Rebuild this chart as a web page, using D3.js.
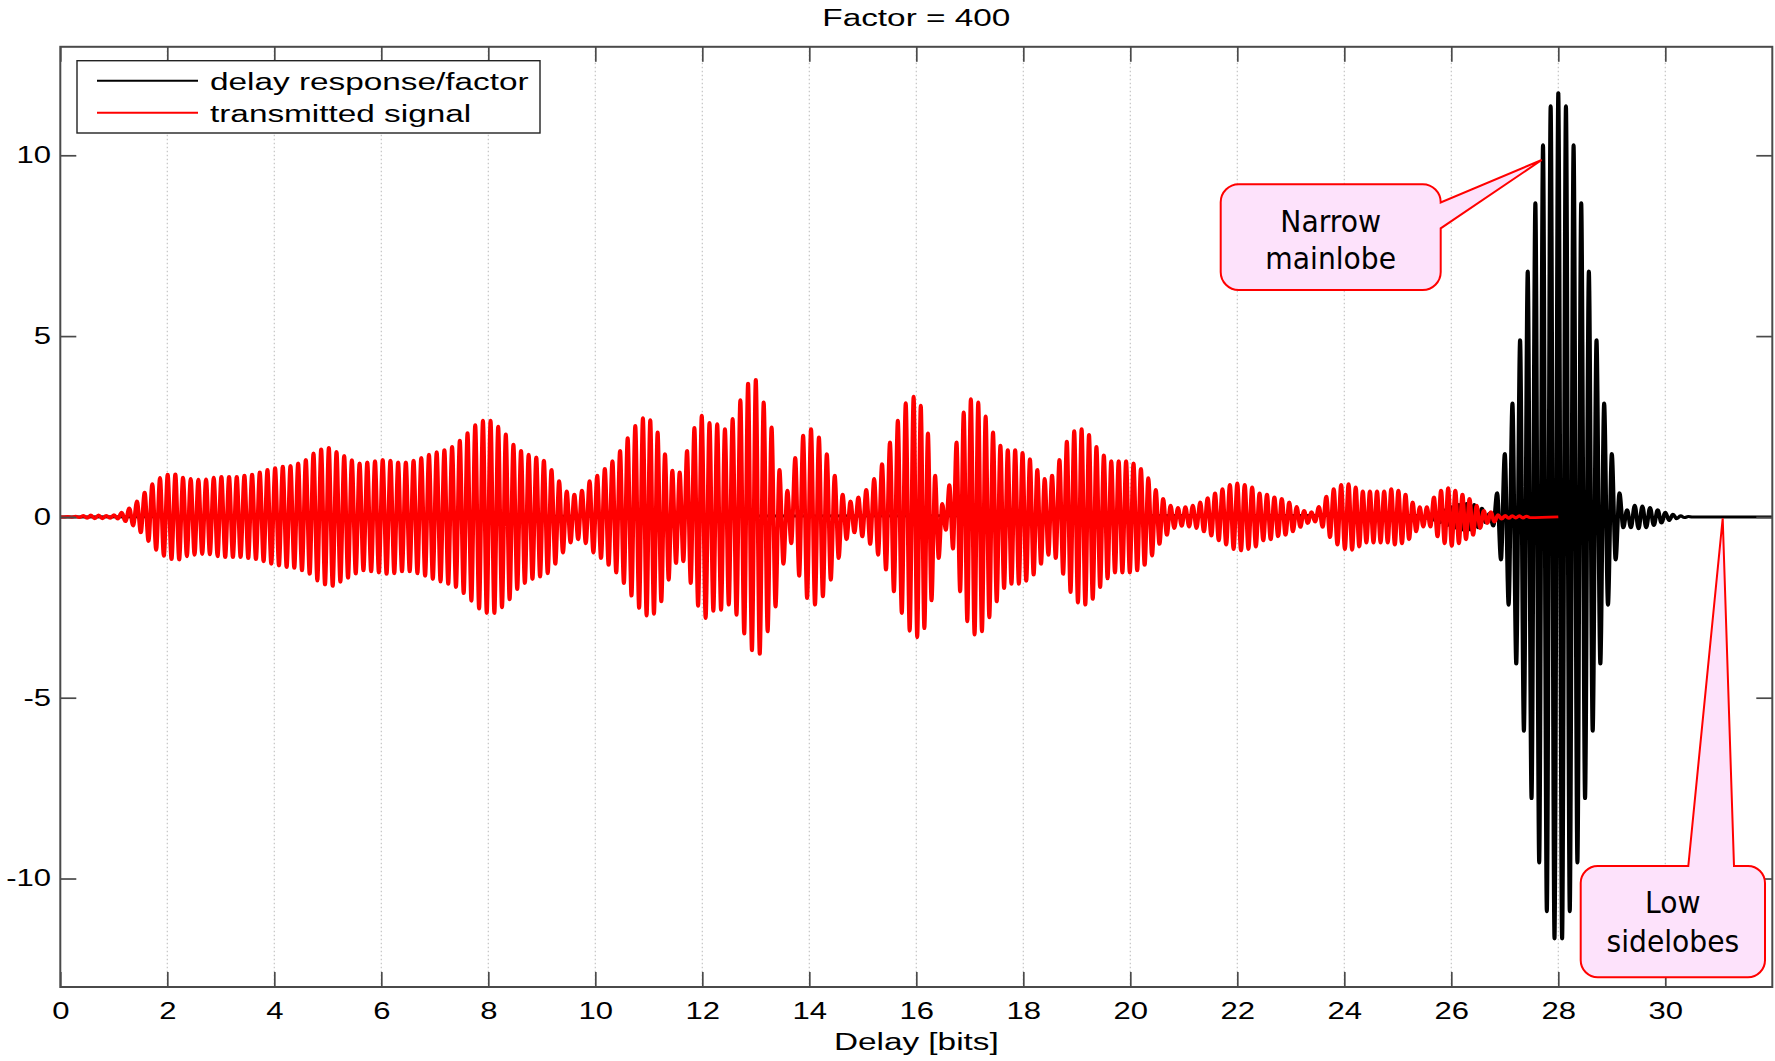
<!DOCTYPE html>
<html>
<head>
<meta charset="utf-8">
<script src="https://cdn.jsdelivr.net/npm/d3@7"></script>
<style>
	body { margin: 0; background: #fff; }
	text { font-family: "Liberation Sans", Arial, sans-serif; fill: #000; }
	.callout text { font-family: "DejaVu Sans", Tahoma, sans-serif; }
</style>
</head>
<body>
<svg id="chart"></svg>
<script>
/* Delay response vs transmitted signal, Factor = 400 */

// Axis ticks and labels
var xTicks = [0, 2, 4, 6, 8, 10, 12, 14, 16, 18, 20, 22, 24, 26, 28, 30];
var yTicks = [-10, -5, 0, 5, 10];
var titleText = "Factor = 400";
var xLabel = "Delay [bits]";
var legendLabels = ["delay response/factor", "transmitted signal"];

// Transmitted signal: amplitude of each carrier cycle
var redAmp = [
	0, 0.01, 0.02, 0.04, 0.05, 0.05, 0.04, 0.06, 0.13, 0.25,
	0.44, 0.68, 0.92, 1.09, 1.18, 1.19, 1.1, 1.06, 1.04, 1.05,
	1.1, 1.12, 1.12, 1.12, 1.15, 1.18, 1.24, 1.31, 1.36, 1.4,
	1.42, 1.49, 1.59, 1.77, 1.88, 1.92, 1.81, 1.7, 1.58, 1.49,
	1.52, 1.55, 1.59, 1.57, 1.52, 1.52, 1.57, 1.64, 1.73, 1.8,
	1.86, 1.95, 2.12, 2.33, 2.55, 2.67, 2.67, 2.51, 2.29, 2.01,
	1.84, 1.73, 1.66, 1.57, 1.31, 1.0, 0.72, 0.63, 0.74, 1.0,
	1.15, 1.34, 1.55, 1.84, 2.19, 2.53, 2.74, 2.69, 2.35, 1.75,
	1.29, 1.24, 1.84, 2.47, 2.81, 2.61, 2.58, 2.44, 2.72, 3.24,
	3.7, 3.8, 3.18, 2.49, 1.31, 0.74, 1.64, 2.26, 2.44, 2.21,
	1.75, 1.15, 0.63, 0.44, 0.55, 0.76, 1.06, 1.47, 2.07, 2.67,
	3.16, 3.34, 3.09, 2.32, 1.15, 0.37, 0.89, 2.07, 2.9, 3.27,
	3.18, 2.79, 2.35, 1.98, 1.86, 1.86, 1.78, 1.61, 1.31, 1.06,
	1.15, 1.59, 2.09, 2.38, 2.44, 2.28, 1.95, 1.71, 1.55, 1.55,
	1.55, 1.49, 1.34, 1.08, 0.76, 0.51, 0.32, 0.26, 0.28, 0.32,
	0.41, 0.53, 0.66, 0.78, 0.9, 0.94, 0.9, 0.83, 0.66, 0.63,
	0.55, 0.51, 0.41, 0.29, 0.18, 0.14, 0.29, 0.57, 0.78, 0.9,
	0.92, 0.83, 0.72, 0.72, 0.72, 0.72, 0.78, 0.74, 0.63, 0.41,
	0.28, 0.28, 0.55, 0.74, 0.81, 0.74, 0.63, 0.51, 0.32, 0.18,
	0.14, 0.06, 0.04, 0.03, 0.03, 0.02
];
// where some of those cycles peak, in bits
var redAnchorCycle = [14, 38, 55, 76, 84, 91, 111, 119, 134, 155, 170, 190];
var redAnchorBit = [2.007, 5.45, 7.9, 10.89, 11.99, 13.0, 15.95, 17.02, 19.09, 22.0, 24.08, 26.74];
var redEnd = 28;

// Delay response/factor: successive extrema (+,-,+,...) every half cycle
var blackExt = [
	0.04, 0.06, 0.08, 0.1, 0.13, 0.16, 0.2, 0.24, 0.28, 0.31,
	0.34, 0.36, 0.37, 0.36, 0.34, 0.3, 0.24, 0.16, 0.1, 0.25,
	0.67, 1.19, 1.75, 2.44, 3.15, 4.07, 4.9, 5.93, 6.8, 7.79,
	8.69, 9.57, 10.29, 10.92, 11.37, 11.67, 11.73, 11.67, 11.37, 10.92,
	10.29, 9.57, 8.69, 7.79, 6.8, 5.93, 4.9, 4.07, 3.15, 2.44,
	1.75, 1.19, 0.67, 0.3, 0.2, 0.3, 0.32, 0.33, 0.3, 0.3,
	0.26, 0.24, 0.2, 0.17, 0.13, 0.1, 0.07, 0.05, 0.03, 0.02,
	0.01, 0
];
var blackPeakBit = 28;      // bit of the main peak
var blackPeakIndex = 36;    // its index in blackExt
var cyclesPerBit = 7;

function drawGraph() {

	var margin = {left: 60.3, top: 46.8},
		width = 1712,
		height = 940.2,
		stretch = 1.35;   // the figure is stretched sideways

	var svg = d3.select("#chart")
		.attr("width", 1775)
		.attr("height", 1061);

	var x = d3.scaleLinear().domain([0, 32]).range([0, width]);
	var xs = d3.scaleLinear().domain([0, 32]).range([0, width / stretch]);
	var y = d3.scaleLinear().domain([-13, 13]).range([height, 0]);

	var cycleToBit = d3.scaleLinear().domain(redAnchorCycle).range(redAnchorBit);

	// build the traces from the extrema
	var red = [{x: 0, y: 0}];
	redAmp.forEach(function(a, k) {
		red.push({x: Math.max(0, cycleToBit(k)), y: a});
		red.push({x: Math.max(0, cycleToBit(k + 0.5)), y: -a});
	});
	red.push({x: redEnd, y: 0});
	red = red.filter(function(d, i) { return i == 0 || d.x > 0; });

	var black = [{x: 0, y: 0}];
	blackExt.forEach(function(a, j) {
		black.push({x: blackPeakBit + (j - blackPeakIndex) / (2 * cyclesPerBit), y: (j % 2 == 0 ? a : -a)});
	});
	black.push({x: 32, y: 0});

	var chart = svg.append("g")
		.attr("transform", "translate(" + margin.left + "," + margin.top + ")");

	// vertical grid
	chart.append("g")
		.selectAll("line")
		.data(xTicks.filter(function(d) { return d > 0; }))
	  .enter().append("line")
		.attr("x1", function(d) { return x(d); })
		.attr("x2", function(d) { return x(d); })
		.attr("y1", 0)
		.attr("y2", height)
		.attr("stroke", "#c4c4c4")
		.attr("stroke-width", 1.2)
		.attr("stroke-dasharray", "1.5,2.5");

	// traces, drawn in the stretched frame
	var traces = chart.append("g")
		.attr("transform", "scale(" + stretch + ",1)");

	var valueline = d3.line()
		.x(function(d) { return xs(d.x); })
		.y(function(d) { return y(d.y); })
		.curve(d3.curveMonotoneX);

	traces.append("path")
		.datum(black)
		.attr("fill", "none")
		.attr("stroke", "#000")
		.attr("stroke-width", 3.0)
		.attr("stroke-linejoin", "round")
		.attr("d", valueline);

	traces.append("path")
		.datum(red)
		.attr("fill", "none")
		.attr("stroke", "#ff0000")
		.attr("stroke-width", 2.95)
		.attr("stroke-linejoin", "round")
		.attr("d", valueline);

	// axes with inward ticks
	var xAxis = d3.axisBottom(x).tickValues(xTicks).tickSizeInner(-15).tickSizeOuter(0).tickPadding(16);
	var yAxis = d3.axisLeft(y).tickValues(yTicks).tickSizeInner(-16).tickSizeOuter(0).tickPadding(6.9)
		.tickFormat(function(d) { return String(d); });

	var gx = chart.append("g")
		.attr("class", "x axis")
		.attr("transform", "translate(0," + height + ")")
		.call(xAxis);
	var gy = chart.append("g")
		.attr("class", "y axis")
		.call(yAxis);
	chart.append("g")
		.attr("transform", "translate(0,0)")
		.call(d3.axisTop(x).tickValues(xTicks).tickSizeInner(-15).tickSizeOuter(0).tickFormat(""));
	chart.append("g")
		.attr("transform", "translate(" + width + ",0)")
		.call(d3.axisRight(y).tickValues(yTicks).tickSizeInner(-16).tickSizeOuter(0).tickFormat(""));

	chart.selectAll(".domain").remove();
	chart.selectAll(".tick line").attr("stroke", "#4a4a4a").attr("stroke-width", 1.7);

	gx.selectAll("text")
		.attr("transform", "scale(" + stretch + ",1)")
		.style("font-size", "23px");
	gy.selectAll("text")
		.attr("transform", "scale(" + stretch + ",1)")
		.style("font-size", "23px");

	// frame
	chart.append("rect")
		.attr("width", width)
		.attr("height", height)
		.attr("fill", "none")
		.attr("stroke", "#4a4a4a")
		.attr("stroke-width", 2);

	// title and x label
	svg.append("text")
		.attr("transform", "translate(" + (margin.left + width / 2) + ",26) scale(" + stretch + ",1)")
		.attr("text-anchor", "middle")
		.style("font-size", "24.7px")
		.text(titleText);
	svg.append("text")
		.attr("transform", "translate(" + (margin.left + width / 2) + ",1050) scale(" + stretch + ",1)")
		.attr("text-anchor", "middle")
		.style("font-size", "24.7px")
		.text(xLabel);

	// legend
	var legend = svg.append("g");
	legend.append("rect")
		.attr("x", 77).attr("y", 60.7)
		.attr("width", 463).attr("height", 72.3)
		.attr("fill", "#fff")
		.attr("stroke", "#222")
		.attr("stroke-width", 1.4);
	var legendColors = ["#000", "#ff0000"];
	legendLabels.forEach(function(label, i) {
		legend.append("line")
			.attr("x1", 97).attr("x2", 198)
			.attr("y1", 80.7 + i * 32).attr("y2", 80.7 + i * 32)
			.attr("stroke", legendColors[i])
			.attr("stroke-width", 2);
		legend.append("text")
			.attr("transform", "translate(210," + (89.8 + i * 31.8) + ") scale(" + stretch + ",1)")
			.style("font-size", "24.7px")
			.text(label);
	});

	// callouts
	function calloutPath(c) {
		var r = c.r, x0 = c.x0, x1 = c.x1, y0 = c.y0, y1 = c.y1;
		var p = "M" + (x0 + r) + "," + y0;
		if (c.side == "top") {
			p += " H" + c.pa + " L" + c.tip[0] + "," + c.tip[1] + " L" + c.pb + "," + y0;
		}
		p += " H" + (x1 - r) + " A" + r + "," + r + " 0 0 1 " + x1 + "," + (y0 + r);
		if (c.side == "right") {
			p += " V" + c.pa + " L" + c.tip[0] + "," + c.tip[1] + " L" + x1 + "," + c.pb;
		}
		p += " V" + (y1 - r) + " A" + r + "," + r + " 0 0 1 " + (x1 - r) + "," + y1;
		p += " H" + (x0 + r) + " A" + r + "," + r + " 0 0 1 " + x0 + "," + (y1 - r);
		p += " V" + (y0 + r) + " A" + r + "," + r + " 0 0 1 " + (x0 + r) + "," + y0 + " Z";
		return p;
	}

	var callouts = [
		{lines: ["Narrow", "mainlobe"], x0: 1220.7, x1: 1440.7, y0: 184.3, y1: 290, r: 18,
			side: "right", pa: 202.5, pb: 228.3, tip: [1541.7, 160], base: [231.7, 269]},
		{lines: ["Low", "sidelobes"], x0: 1580.7, x1: 1765, y0: 866, y1: 977.3, r: 17,
			side: "top", pa: 1688.3, pb: 1734, tip: [1722.7, 518.3], base: [913, 951.7]}
	];

	callouts.forEach(function(c) {
		var g = svg.append("g").attr("class", "callout");
		g.append("path")
			.attr("d", calloutPath(c))
			.attr("fill", "#fde2fb")
			.attr("stroke", "#ff0000")
			.attr("stroke-width", 2)
			.attr("stroke-linejoin", "miter");
		c.lines.forEach(function(t, i) {
			g.append("text")
				.attr("transform", "translate(" + ((c.x0 + c.x1) / 2) + "," + c.base[i] + ") scale(0.94,1)")
				.attr("text-anchor", "middle")
				.style("font-size", "30px")
				.text(t);
		});
	});
}

drawGraph();
</script>
</body>
</html>
